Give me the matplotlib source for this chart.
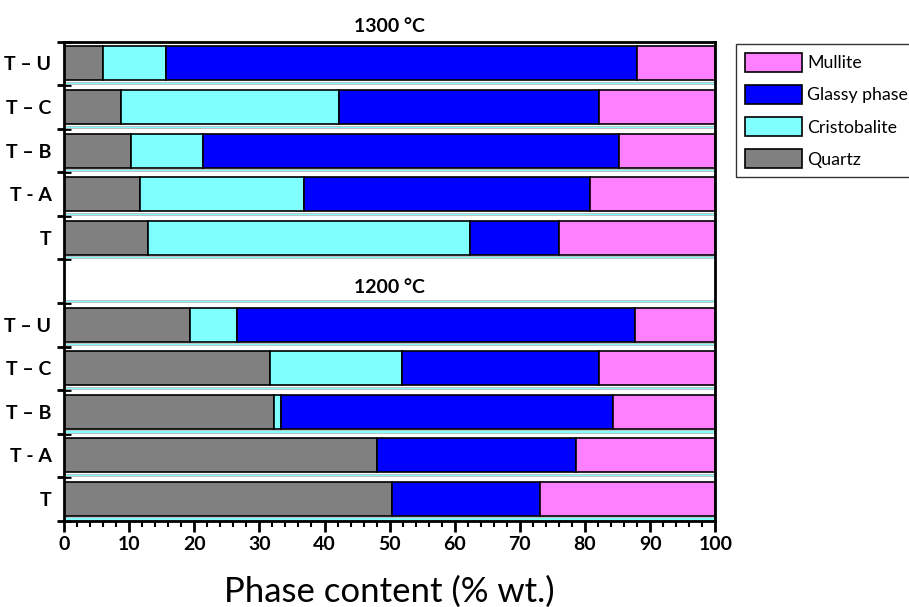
import matplotlib
matplotlib.use("Agg")
import matplotlib.pyplot as plt
from matplotlib.ticker import MultipleLocator
from matplotlib.patches import Patch
import numpy as np

# Sample rows, bottom to top within each firing temperature
samples = ["T", "T - A", "T \u2013 B", "T \u2013 C", "T \u2013 U"]

# Phase contents (% wt.) at 1200 °C, in the order of `samples`
quartz_1200 = [50.3, 48.1, 32.2, 31.6, 19.4]
cristobalite_1200 = [0.0, 0.0, 1.1, 20.3, 7.1]
glassy_1200 = [22.8, 30.5, 51.0, 30.2, 61.1]
mullite_1200 = [26.9, 21.4, 15.7, 17.9, 12.4]

# Phase contents (% wt.) at 1300 °C
quartz_1300 = [12.9, 11.7, 10.3, 8.8, 6.0]
cristobalite_1300 = [49.5, 25.2, 11.0, 33.5, 9.7]
glassy_1300 = [13.6, 43.8, 63.9, 39.9, 72.3]
mullite_1300 = [24.0, 19.3, 14.8, 17.8, 12.0]

phases = ["Quartz", "Cristobalite", "Glassy phase", "Mullite"]
colors = ["#808080", "#80FFFF", "#0000FF", "#FF80FF"]
group_titles = ["1200 \u00b0C", "1300 \u00b0C"]

plt.rcParams["font.family"] = ["Lato", "DejaVu Sans"]

fig = plt.figure(figsize=(9.09, 6.07), dpi=100)
ax = fig.add_axes([0.0704, 0.1422, 0.7165, 0.7891])

# Two blocks of five rows separated by an empty slot
n = len(samples)
pos_1200 = np.arange(n)
pos_1300 = np.arange(n) + n + 1
bar_h = 0.78

groups = [
    (pos_1200, [quartz_1200, cristobalite_1200, glassy_1200, mullite_1200]),
    (pos_1300, [quartz_1300, cristobalite_1300, glassy_1300, mullite_1300]),
]

for pos, series in groups:
    left = np.zeros(n)
    for vals, col in zip(series, colors):
        vals = np.asarray(vals, dtype=float)
        ax.barh(pos, vals, left=left, height=bar_h, color=col,
                edgecolor="black", linewidth=1.2, zorder=3)
        left += vals

# Thin separator strips along every row boundary
bounds = np.arange(-0.5, 2 * n + 1, 1.0)
ax.barh(bounds + 0.05, 100, height=0.05, color="#80FFFF",
        edgecolor="#b8b8b8", linewidth=0.6, zorder=2)

ax.set_xlim(0, 100)
ax.set_ylim(-0.5, 2 * n + 0.5)

# y axis: labels at row centres, tick marks at row boundaries
ax.set_yticks(np.concatenate([pos_1200, pos_1300]))
ax.set_yticklabels(samples + samples, fontweight="bold", fontsize=14)
ax.set_yticks(bounds, minor=True)
ax.tick_params(axis="y", which="major", length=0, pad=9)
ax.tick_params(axis="y", which="minor", direction="inout", length=10, width=2)

# x axis
ax.xaxis.set_major_locator(MultipleLocator(10))
ax.xaxis.set_minor_locator(MultipleLocator(2))
ax.tick_params(axis="x", which="major", direction="out", length=8, width=2,
               labelsize=14, pad=3)
ax.tick_params(axis="x", which="minor", direction="out", length=4.5, width=1.5)
for lab in ax.get_xticklabels():
    lab.set_fontweight("bold")

fig.text(389.5 / 909, 1 - 592 / 607, "Phase content (% wt.)",
         ha="center", va="center", fontsize=25)

for sp in ax.spines.values():
    sp.set_linewidth(2)
    sp.set_zorder(5)

# Temperature headings
ax.text(50, 2 * n + 0.65, group_titles[1], ha="center", va="bottom",
        fontsize=14, fontweight="bold")
ax.text(50, n - 0.15, group_titles[0], ha="center", va="center",
        fontsize=14, fontweight="bold")

handles = [Patch(facecolor=c, edgecolor="black", linewidth=1.2, label=p)
           for p, c in zip(phases, colors)][::-1]
leg = fig.legend(handles=handles, loc="upper left",
                 bbox_to_anchor=(736 / 909, 1 - 44 / 607),
                 fontsize=12.8, frameon=True, fancybox=False,
                 handlelength=3.2, handleheight=1.25, handletextpad=0.3,
                 labelspacing=0.75, borderpad=0.5, borderaxespad=0)
leg.get_frame().set_edgecolor("black")
leg.get_frame().set_linewidth(1.0)

fig.savefig("out.png", dpi=100)
